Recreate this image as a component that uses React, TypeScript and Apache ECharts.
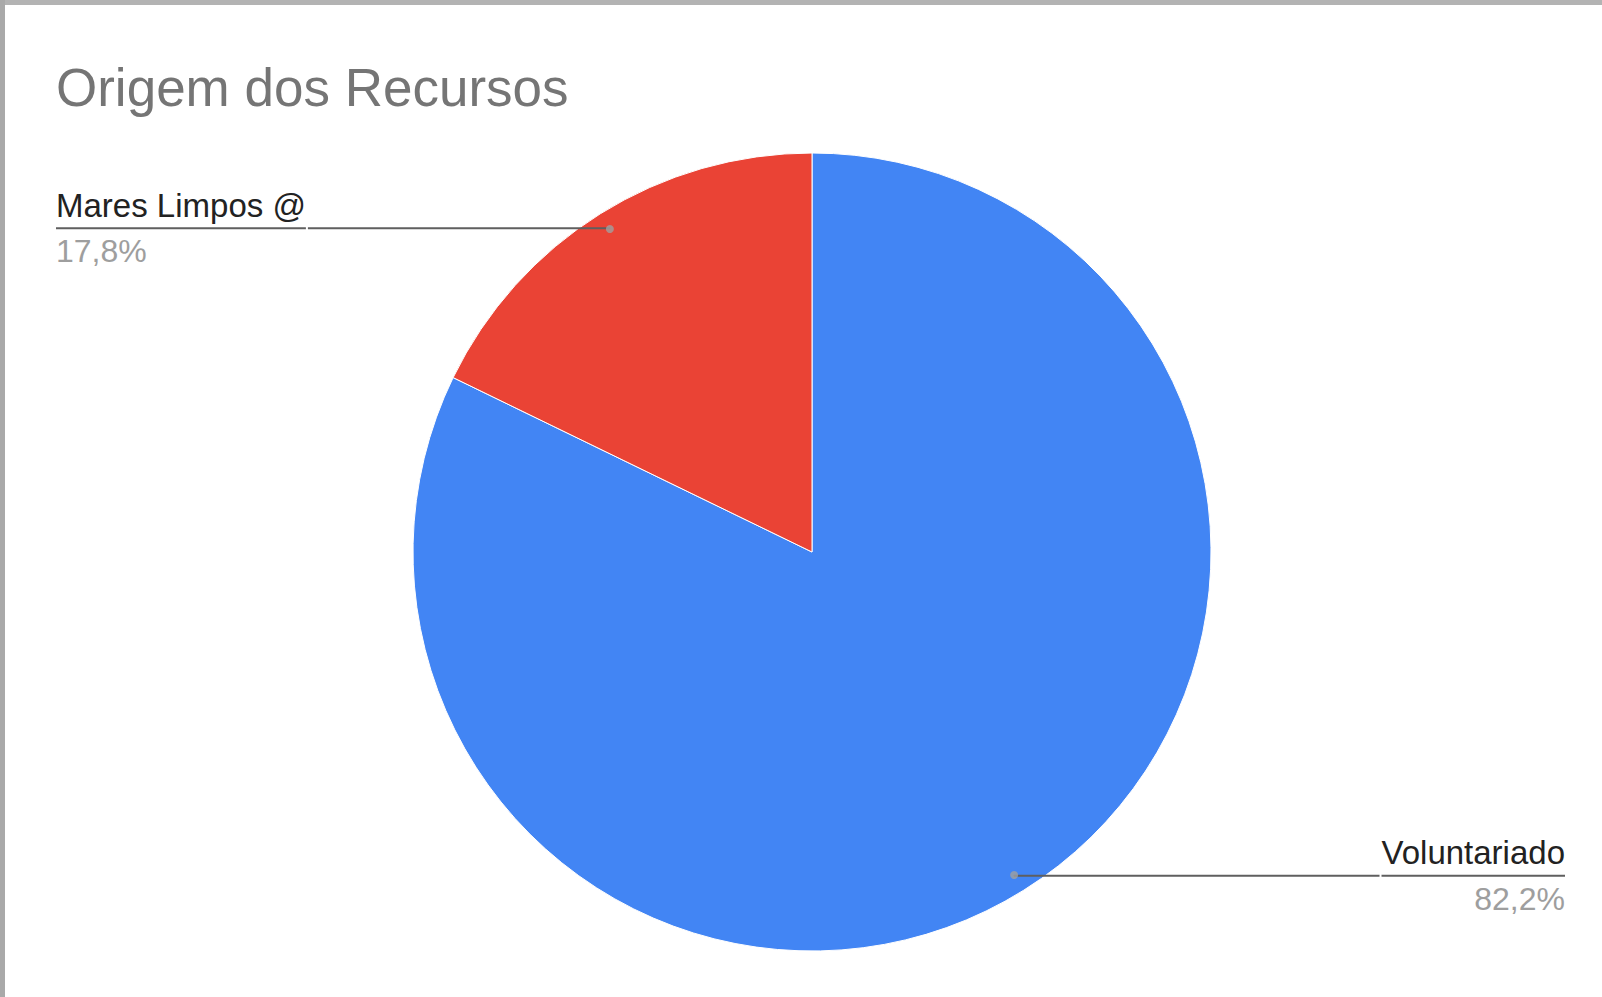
import React, { useEffect, useRef } from 'react';
import * as echarts from 'echarts';

const titleText = 'Origem dos Recursos';
const categories = ['Voluntariado', 'Mares Limpos @'];
const values = [82.2, 17.8];
const colors = ['#4285f4', '#ea4335'];

export default function App() {
  const ref = useRef<HTMLDivElement>(null);

  useEffect(() => {
    const chart = echarts.init(ref.current!, null, { renderer: 'svg' });
    const font = '"Liberation Sans", Arial, sans-serif';
    const center = [812, 552];
    const total = values.reduce((a, b) => a + b, 0);
    const mids: number[] = [];
    let acc = 0;
    values.forEach((v) => {
      mids.push(acc + v / 2);
      acc += v;
    });

    const pieData = categories.map((name, i) => ({
      name,
      value: values[i],
      itemStyle: { color: colors[i] },
    }));

    const labelData = categories.map((name, i) => ({
      name,
      value: values[i],
      label: { edgeDistance: i === 0 ? 37 : 56 },
    }));

    const option: any = {
      animation: false,
      backgroundColor: '#ffffff',
      title: {
        text: titleText,
        left: 51,
        top: 56,
        textStyle: {
          fontFamily: font,
          fontSize: 53,
          fontWeight: 'normal',
          color: '#757575',
        },
      },
      polar: { center, radius: 381 },
      angleAxis: {
        type: 'value',
        min: 0,
        max: total,
        startAngle: 90,
        clockwise: true,
        show: false,
      },
      radiusAxis: { type: 'value', min: 0, max: 1, show: false },
      graphic: [
        { type: 'rect', left: 0, top: 0, z: 100, shape: { width: 1602, height: 5 }, style: { fill: '#b3b3b3' } },
        { type: 'rect', left: 0, top: 0, z: 100, shape: { width: 5, height: 997 }, style: { fill: '#a9a9a9' } },
      ],
      series: [
        {
          type: 'pie',
          z: 2,
          center,
          radius: 399,
          startAngle: 90,
          clockwise: true,
          silent: true,
          label: { show: false },
          labelLine: { show: false },
          itemStyle: { borderColor: '#ffffff', borderWidth: 1 },
          data: pieData,
        },
        {
          type: 'pie',
          z: 4,
          center,
          radius: 381,
          startAngle: 90,
          clockwise: true,
          silent: true,
          itemStyle: { color: 'rgba(0,0,0,0)' },
          label: {
            show: true,
            position: 'outside',
            alignTo: 'edge',
            distanceToLabelLine: 0,
            formatter: (p: any) =>
              `{name|${p.name}}\n{hr|}\n{per|${p.percent.toFixed(1).replace('.', ',')}%}`,
            rich: {
              name: { fontFamily: font, fontSize: 33, color: '#222222', lineHeight: 46 },
              hr: { width: '100%', height: 0, lineHeight: 0, borderColor: '#5f5f5f', borderWidth: 2 },
              per: { fontFamily: font, fontSize: 32, color: '#9e9e9e', lineHeight: 46 },
            },
          },
          labelLine: {
            show: true,
            length: 1,
            length2: 10,
            lineStyle: { color: '#5f5f5f', width: 2 },
          },
          data: labelData,
        },
        {
          type: 'scatter',
          z: 6,
          coordinateSystem: 'polar',
          silent: true,
          symbolSize: 8,
          itemStyle: { color: '#a0a0a0' },
          data: mids.map((m) => [1, m]),
        },
      ],
    };

    chart.setOption(option);
    return () => chart.dispose();
  }, []);

  return (
    <div
      ref={ref}
      style={{ position: 'fixed', left: 0, top: 0, width: '100vw', height: '100vh', background: '#fff' }}
    />
  );
}
